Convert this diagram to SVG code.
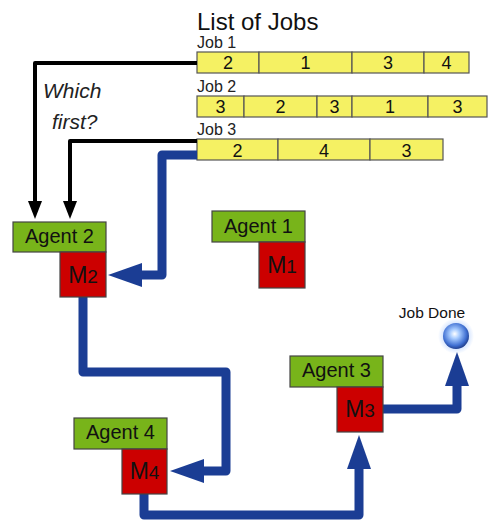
<svg xmlns="http://www.w3.org/2000/svg" width="489" height="520" viewBox="0 0 489 520">
<defs>
<style>
text{font-family:"Liberation Sans",Arial,sans-serif;fill:#111}
.title{font-size:24px}
.jl{font-size:16px;fill:#222}
.num{font-size:18px;text-anchor:middle}
.cell{fill:#f5f163;stroke:#555;stroke-width:1.2}
.ag{fill:#78b41a;stroke:#444;stroke-width:1.2}
.mc{fill:#cc0000;stroke:#444;stroke-width:1.2}
.agt{font-size:20px;text-anchor:middle}
.mt{font-size:23px;text-anchor:middle}
.mt tspan{font-size:19px}
.q{font-size:21px;font-style:italic;fill:#222}
.blue{fill:none;stroke:#1b3d94;stroke-width:9;stroke-linejoin:round}
.black{fill:none;stroke:#000;stroke-width:4;stroke-linejoin:round}
</style>
<marker id="ba" viewBox="0 -12 34 24" refX="1" refY="0" markerWidth="34" markerHeight="24" markerUnits="userSpaceOnUse" orient="auto">
<path d="M0,-12 L34,0 L0,12 z" fill="#1b3d94"/>
</marker>
<marker id="ka" viewBox="0 -7 18 14" refX="1" refY="0" markerWidth="18" markerHeight="14" markerUnits="userSpaceOnUse" orient="auto">
<path d="M0,-7 L18,0 L0,7 z" fill="#000"/>
</marker>
<radialGradient id="sph" cx="0.45" cy="0.42" r="0.6">
<stop offset="0" stop-color="#ffffff"/>
<stop offset="0.3" stop-color="#a8ccff"/>
<stop offset="0.75" stop-color="#4070d2"/>
<stop offset="1" stop-color="#1e3a86"/>
</radialGradient>
<radialGradient id="glow" cx="0.5" cy="0.5" r="0.5">
<stop offset="0.6" stop-color="#b4d0ff" stop-opacity="0.7"/>
<stop offset="1" stop-color="#b4d0ff" stop-opacity="0"/>
</radialGradient>
</defs>
<rect width="489" height="520" fill="#fff"/>

<g id="jobs">
<text class="title" x="197" y="30">List of Jobs</text>
<text class="jl" x="197" y="48">Job 1</text>
<rect class="cell" x="197" y="52" width="62" height="21"/>
<rect class="cell" x="259" y="52" width="93" height="21"/>
<rect class="cell" x="352" y="52" width="72" height="21"/>
<rect class="cell" x="424" y="52" width="45" height="21"/>
<text class="num" x="228" y="69">2</text>
<text class="num" x="305.5" y="69">1</text>
<text class="num" x="388" y="69">3</text>
<text class="num" x="446.5" y="69">4</text>
<text class="jl" x="197" y="92">Job 2</text>
<rect class="cell" x="197" y="96" width="47" height="21"/>
<rect class="cell" x="244" y="96" width="73" height="21"/>
<rect class="cell" x="317" y="96" width="35" height="21"/>
<rect class="cell" x="352" y="96" width="76" height="21"/>
<rect class="cell" x="428" y="96" width="59" height="21"/>
<text class="num" x="220.5" y="113">3</text>
<text class="num" x="280.5" y="113">2</text>
<text class="num" x="334.5" y="113">3</text>
<text class="num" x="390" y="113">1</text>
<text class="num" x="457.5" y="113">3</text>
<text class="jl" x="197" y="135">Job 3</text>
<rect class="cell" x="197" y="139" width="81" height="21"/>
<rect class="cell" x="278" y="139" width="92" height="21"/>
<rect class="cell" x="370" y="139" width="73" height="21"/>
<text class="num" x="237.5" y="157">2</text>
<text class="num" x="324" y="157">4</text>
<text class="num" x="406.5" y="157">3</text>
</g>

<g id="question">
<text class="q" x="43" y="98">Which</text>
<text class="q" x="52" y="129">first?</text>
</g>

<g id="connectors">
<path class="black" d="M197,63 H35 V202" marker-end="url(#ka)"/>
<path class="black" d="M197,141 H70 V202" marker-end="url(#ka)"/>
<path class="blue" d="M197,155 H162 V275 H141" marker-end="url(#ba)"/>
<path class="blue" d="M83,297 V372 H226 V471 H203" marker-end="url(#ba)"/>
<path class="blue" d="M144,494 V515 H359 V468" marker-end="url(#ba)"/>
<path class="blue" d="M383,409 H457 V385" marker-end="url(#ba)"/>
</g>

<g id="agent1">
<rect class="ag" x="212" y="211" width="93" height="31"/>
<rect class="mc" x="259" y="242" width="46" height="46"/>
<text class="agt" x="258.5" y="233">Agent 1</text>
<text class="mt" x="282" y="273">M<tspan>1</tspan></text>
</g>

<g id="agent2">
<rect class="ag" x="13" y="222" width="93" height="30"/>
<rect class="mc" x="60" y="252" width="46" height="45"/>
<text class="agt" x="59.5" y="243">Agent 2</text>
<text class="mt" x="83" y="283">M<tspan>2</tspan></text>
</g>

<g id="agent3">
<rect class="ag" x="290" y="356" width="93" height="31"/>
<rect class="mc" x="337" y="387" width="46" height="45"/>
<text class="agt" x="336.5" y="377">Agent 3</text>
<text class="mt" x="360" y="417">M<tspan>3</tspan></text>
</g>

<g id="agent4">
<rect class="ag" x="74" y="418" width="93" height="31"/>
<rect class="mc" x="122" y="449" width="45" height="45"/>
<text class="agt" x="120.5" y="439">Agent 4</text>
<text class="mt" x="144.5" y="479">M<tspan>4</tspan></text>
</g>

<g id="jobdone">
<circle cx="456" cy="336" r="18" fill="url(#glow)"/>
<circle cx="456" cy="336" r="13" fill="url(#sph)"/>
<text x="432" y="318" font-size="15.5" text-anchor="middle">Job Done</text>
</g>
</svg>
